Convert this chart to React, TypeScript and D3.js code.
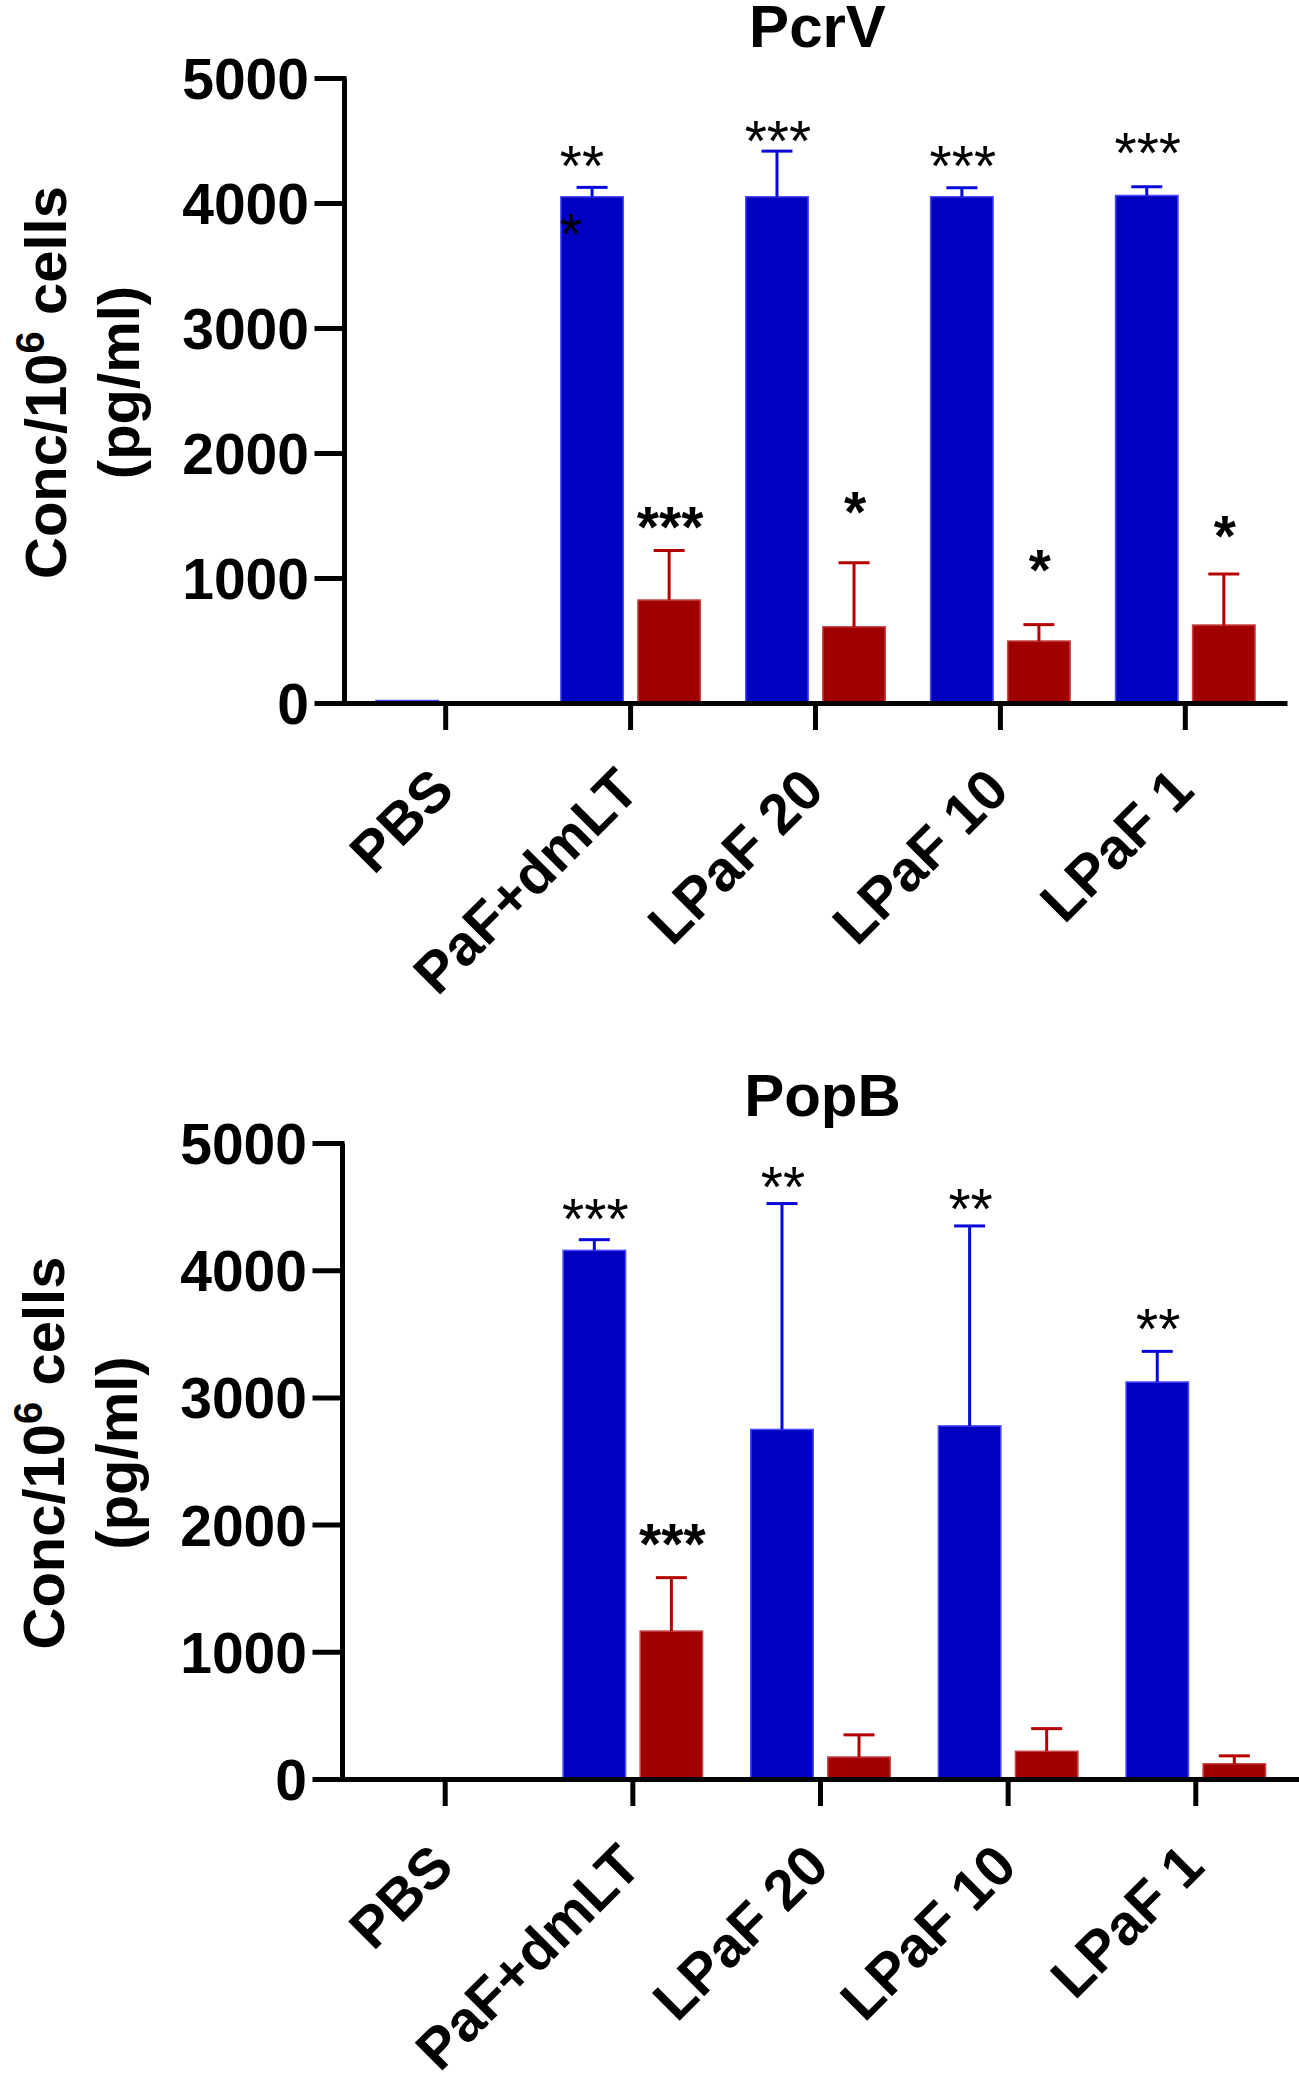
import React, { useEffect, useRef } from 'react'
import * as d3 from 'd3'

const categories = ['PBS', 'PaF+dmLT', 'LPaF 20', 'LPaF 10', 'LPaF 1']
const yTicks = [0, 1000, 2000, 3000, 4000, 5000]

// PcrV panel
const pcrvBlue = [20, 4050, 4050, 4050, 4060]
const pcrvBlueSd = [0, 75, 365, 72, 70]
const pcrvRed = [0, 824, 610, 496, 624]
const pcrvRedSd = [0, 396, 512, 131, 408]
const pcrvBlueStars = [[], ['**', '*'], ['***'], ['***'], ['***']]
const pcrvBlueStarAt = [0, 4328, 4528, 4328, 4432]
const pcrvRedStars = [[], ['***'], ['*'], ['*'], ['*']]
const pcrvRedStarAt = [0, 1440, 1560, 1096, 1368]

// PopB panel
const popbBlue = [0, 4156, 2748, 2776, 3121]
const popbBlueSd = [0, 84, 1776, 1572, 241]
const popbRed = [0, 1163, 173, 218, 120]
const popbRedSd = [0, 420, 174, 178, 62]
const popbBlueStars = [[], ['***'], ['**'], ['**'], ['**']]
const popbBlueStarAt = [0, 4434, 4686, 4513, 3569]
const popbRedStars = [[], ['***'], [], [], []]
const popbRedStarAt = [0, 1879, 0, 0, 0]

const FONT = '"Liberation Sans", Arial, Helvetica, sans-serif'
const BLUE = '#0000c0'
const BLUE_EDGE = '#4a4aff'
const BLUE_ERR = '#0808dc'
const RED = '#a00000'
const RED_EDGE = '#c84646'
const RED_ERR = '#b40000'

interface Panel {
  title: string
  blue: number[]
  blueSd: number[]
  red: number[]
  redSd: number[]
  blueStars: string[][]
  blueStarAt: number[]
  redStars: string[][]
  redStarAt: number[]
  left: number
  right: number
  top: number
  bottom: number
  titleY: number
}

const panels: Panel[] = [
  {
    title: 'PcrV',
    blue: pcrvBlue,
    blueSd: pcrvBlueSd,
    red: pcrvRed,
    redSd: pcrvRedSd,
    blueStars: pcrvBlueStars,
    blueStarAt: pcrvBlueStarAt,
    redStars: pcrvRedStars,
    redStarAt: pcrvRedStarAt,
    left: 344,
    right: 1287,
    top: 78,
    bottom: 703,
    titleY: 47,
  },
  {
    title: 'PopB',
    blue: popbBlue,
    blueSd: popbBlueSd,
    red: popbRed,
    redSd: popbRedSd,
    blueStars: popbBlueStars,
    blueStarAt: popbBlueStarAt,
    redStars: popbRedStars,
    redStarAt: popbRedStarAt,
    left: 342,
    right: 1299,
    top: 1143,
    bottom: 1779,
    titleY: 1116,
  },
]

const App: React.FC = () => {
  const ref = useRef<SVGSVGElement>(null)

  useEffect(() => {
    if (!ref.current) return
    const svg = d3.select(ref.current)
    svg.selectAll('*').remove()

    panels.forEach(p => {
      const g = svg.append('g')
      const x = d3
        .scaleBand<string>()
        .domain(categories)
        .range([p.left, p.right])
        .paddingInner(0)
        .paddingOuter(0.05)
      const sub = d3
        .scaleBand<string>()
        .domain(['blue', 'red'])
        .range([-70.5, 70.5])
        .paddingInner(0.17)
      const y = d3.scaleLinear().domain([0, 5000]).range([p.bottom, p.top])
      const cx = (c: string) => (x(c) as number) + x.bandwidth() / 2

      const series = [
        { key: 'blue', vals: p.blue, sd: p.blueSd, fill: BLUE, edge: BLUE_EDGE, err: BLUE_ERR, stars: p.blueStars, at: p.blueStarAt, weight: 'normal' },
        { key: 'red', vals: p.red, sd: p.redSd, fill: RED, edge: RED_EDGE, err: RED_ERR, stars: p.redStars, at: p.redStarAt, weight: 'bold' },
      ]

      series.forEach(s => {
        categories.forEach((c, i) => {
          const v = s.vals[i]
          if (v <= 0) return
          const bx = cx(c) + (sub(s.key) as number)
          const bw = sub.bandwidth()
          g.append('rect')
            .attr('x', bx + 0.75)
            .attr('y', y(v))
            .attr('width', bw - 1.5)
            .attr('height', p.bottom - y(v))
            .attr('fill', s.fill)
            .attr('stroke', s.edge)
            .attr('stroke-width', 1.5)

          if (s.sd[i] > 0) {
            const mid = bx + bw / 2
            const yt = y(v + s.sd[i])
            g.append('line')
              .attr('x1', mid).attr('x2', mid)
              .attr('y1', y(v)).attr('y2', yt)
              .attr('stroke', s.err).attr('stroke-width', 3)
            g.append('line')
              .attr('x1', mid - 15.5).attr('x2', mid + 15.5)
              .attr('y1', yt).attr('y2', yt)
              .attr('stroke', s.err).attr('stroke-width', 3)
          }
        })
      })

      // significance stars
      series.forEach(s => {
        categories.forEach((c, i) => {
          const lines = s.stars[i]
          if (!lines.length) return
          const mid = cx(c) + (sub(s.key) as number) + sub.bandwidth() / 2 + 1
          const fs = 57
          const starW = 0.389 * fs
          const total = lines.join('').length
          const base = y(s.at[i]) + 0.42 * fs
          lines.forEach((ln, j) => {
            const t = g.append('text')
              .attr('y', base + j * 68)
              .attr('font-family', FONT)
              .attr('font-size', fs)
              .attr('font-weight', s.weight)
              .attr('fill', '#000')
              .text(ln)
            if (lines.length > 1) {
              t.attr('x', mid - (total * starW) / 2).attr('text-anchor', 'start')
            } else {
              t.attr('x', mid).attr('text-anchor', 'middle')
            }
          })
        })
      })

      // y axis
      const yAxis = d3
        .axisLeft(y)
        .tickValues(yTicks)
        .tickFormat(d => String(d))
        .tickSize(27)
        .tickSizeOuter(0)
        .tickPadding(8)
      const ya = g.append('g').attr('transform', `translate(${p.left},0)`).call(yAxis)
      ya.select('.domain').attr('stroke', '#000').attr('stroke-width', 5)
      ya.selectAll('.tick line').attr('stroke', '#000').attr('stroke-width', 5).attr('stroke-linecap', 'square')
      ya.selectAll('.tick text')
        .attr('font-family', FONT)
        .attr('font-size', 57)
        .attr('font-weight', 'bold')
        .attr('fill', '#000')
        .attr('dy', '0.36em')

      // x axis
      const xAxis = d3
        .axisBottom(x)
        .tickSize(27)
        .tickSizeOuter(0)
      const xa = g.append('g').attr('transform', `translate(0,${p.bottom})`).call(xAxis)
      xa.select('.domain').attr('stroke', '#000').attr('stroke-width', 5)
      xa.selectAll('.tick line').attr('stroke', '#000').attr('stroke-width', 5)
      xa.selectAll('.tick text')
        .attr('font-family', FONT)
        .attr('font-size', 57)
        .attr('font-weight', 'bold')
        .attr('fill', '#000')
        .attr('text-anchor', 'end')
        .attr('x', 0)
        .attr('y', 0)
        .attr('dy', 0)
        .attr('transform', 'translate(11,90) rotate(-45)')

      // y axis title
      const cy = (p.top + p.bottom) / 2 - 8
      const t1 = g.append('text')
        .attr('transform', `translate(${p.left - 278},${cy}) rotate(-90)`)
        .attr('text-anchor', 'middle')
        .attr('font-family', FONT)
        .attr('font-size', 58)
        .attr('font-weight', 'bold')
        .attr('fill', '#000')
      t1.append('tspan').text('Conc/10')
      t1.append('tspan').attr('font-size', 40).attr('dy', -22).text('6')
      t1.append('tspan').attr('dy', 22).text(' cells')
      g.append('text')
        .attr('transform', `translate(${p.left - 205},${cy}) rotate(-90)`)
        .attr('text-anchor', 'middle')
        .attr('font-family', FONT)
        .attr('font-size', 58)
        .attr('font-weight', 'bold')
        .attr('fill', '#000')
        .text('(pg/ml)')

      // title
      g.append('text')
        .attr('x', (p.left + p.right) / 2 + 2)
        .attr('y', p.titleY)
        .attr('text-anchor', 'middle')
        .attr('font-family', FONT)
        .attr('font-size', 60)
        .attr('font-weight', 'bold')
        .attr('fill', '#000')
        .text(p.title)
    })
  }, [])

  return (
    <svg
      ref={ref}
      width={1299}
      height={2082}
      style={{ position: 'absolute', left: 0, top: 0, background: '#fff' }}
    />
  )
}

export default App
